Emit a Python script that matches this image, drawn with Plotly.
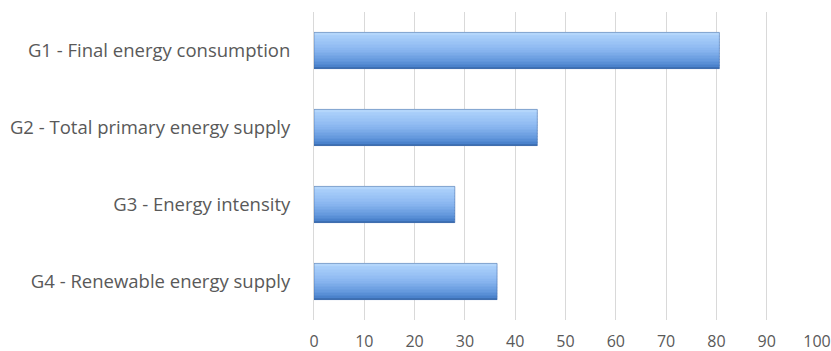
import plotly.graph_objects as go

# Goal categories and their scores
categories = [
    "G1 - Final energy consumption",
    "G2 - Total primary energy supply",
    "G3 - Energy intensity",
    "G4 - Renewable energy supply",
]
values = [80.6, 44.4, 28.0, 36.4]
x_ticks = [0, 10, 20, 30, 40, 50, 60, 70, 80, 90, 100]

BAR_W = 0.47
FONT = "'Open Sans', Lato, sans-serif"

# vertical shading of each bar, top edge to bottom edge
stops = [
    (0.00, (0xd2, 0xea, 0xfd)),
    (0.08, (0xac, 0xd1, 0xfb)),
    (0.45, (0x8f, 0xba, 0xf2)),
    (0.80, (0x62, 0x97, 0xdc)),
    (0.94, (0x4b, 0x82, 0xcc)),
    (1.00, (0x35, 0x66, 0xa8)),
]


def shade(t):
    for (t0, c0), (t1, c1) in zip(stops, stops[1:]):
        if t <= t1:
            f = (t - t0) / (t1 - t0) if t1 > t0 else 0
            return "rgb(%d,%d,%d)" % tuple(round(a + (b - a) * f) for a, b in zip(c0, c1))
    return "rgb(%d,%d,%d)" % stops[-1][1]


fig = go.Figure()

N = 24
strip = BAR_W / N
for i in range(N):
    fig.add_trace(go.Bar(
        y=categories, x=values, orientation="h",
        width=strip * 1.05, offset=-BAR_W / 2 + i * strip,
        marker=dict(color=shade((i + 0.5) / N), line=dict(width=0)),
        showlegend=False, hoverinfo="skip",
    ))

# outline of each bar
fig.add_trace(go.Bar(
    y=categories, x=values, orientation="h",
    width=BAR_W, offset=-BAR_W / 2,
    marker=dict(color="rgba(0,0,0,0)", line=dict(color="rgba(70,110,170,0.55)", width=1)),
    showlegend=False, hovertemplate="%{y}: %{x}<extra></extra>",
))

fig.update_layout(
    width=831, height=351,
    margin=dict(l=314, r=14, t=12, b=31),
    paper_bgcolor="white", plot_bgcolor="white",
    barmode="overlay",
    font=dict(family=FONT, color="#595959"),
    xaxis=dict(
        range=[0, 100], tickvals=x_ticks, ticktext=[str(v) for v in x_ticks],
        showgrid=True, gridcolor="#d9d9d9", gridwidth=1,
        zeroline=False, showline=False, ticks="",
        tickfont=dict(size=16, color="#595959"),
        ticklabelstandoff=10, automargin=False,
    ),
    yaxis=dict(
        categoryorder="array", categoryarray=categories, autorange="reversed",
        showgrid=False, zeroline=False,
        showline=True, linecolor="#d9d9d9", linewidth=1,
        ticks="", tickfont=dict(size=18.5, color="#595959"),
        ticklabelstandoff=19, automargin=False,
    ),
)

fig.write_html("out.html")
